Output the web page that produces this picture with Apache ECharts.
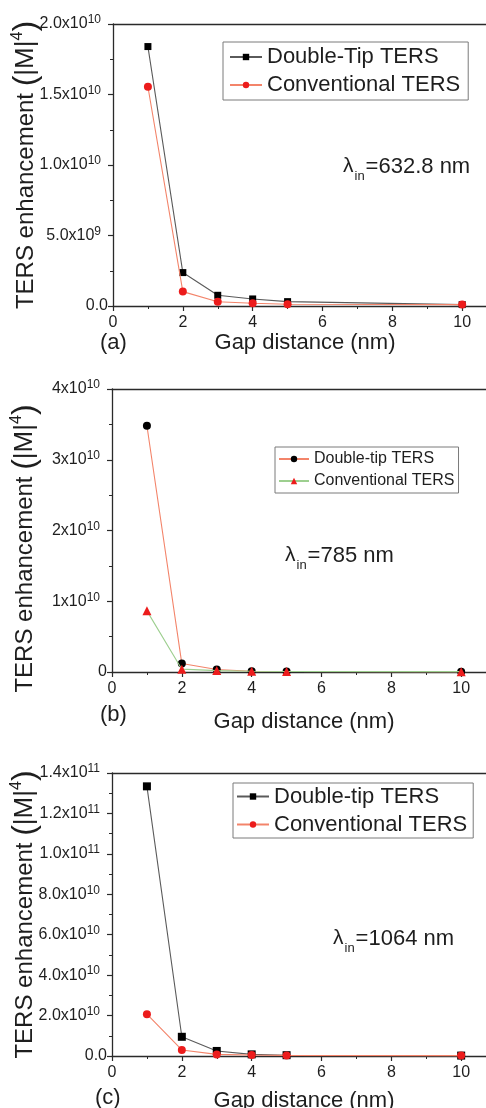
<!DOCTYPE html>
<html>
<head>
<meta charset="utf-8">
<script src="https://cdn.jsdelivr.net/npm/echarts/dist/echarts.min.js"></script>
<style>
  html, body { margin: 0; padding: 0; background: #ffffff; }
  #chart { width: 486px; height: 1108px; }
</style>
</head>
<body>
<div id="chart"></div>
<script>
// Gap distances (nm) shared by all three panels
const gapNm = [1, 2, 3, 4, 5, 10];
const xTickLabels = ['0', '2', '4', '6', '8', '10'];

// (a) excitation at 632.8 nm
const doubleTip633 = [1.84e10, 2.37e9, 7.6e8, 5.0e8, 3.1e8, 1.0e8];
const conventional633 = [1.555e10, 1.02e9, 3.0e8, 1.9e8, 1.2e8, 1.0e8];
const yTicks633 = ['0.0', '5.0x10^9', '1.0x10^10', '1.5x10^10', '2.0x10^10'];

// (b) excitation at 785 nm
const doubleTip785 = [3.48e10, 1.19e9, 3.5e8, 1.0e8, 8.0e7, 5.0e7];
const conventional785 = [8.64e9, 4.0e8, 2.0e8, 1.0e8, 8.0e7, 5.0e7];
const yTicks785 = ['0', '1x10^10', '2x10^10', '3x10^10', '4x10^10'];

// (c) excitation at 1064 nm
const doubleTip1064 = [1.334e11, 9.5e9, 2.5e9, 8.0e8, 4.0e8, 2.0e8];
const conventional1064 = [2.07e10, 3.0e9, 8.0e8, 5.0e8, 3.0e8, 2.0e8];
const yTicks1064 = ['0.0', '2.0x10^10', '4.0x10^10', '6.0x10^10', '8.0x10^10', '1.0x10^11', '1.2x10^11', '1.4x10^11'];

const FONT = '"Liberation Sans", Arial, Helvetica, sans-serif';
const INK = '#1e1e1e';
const AXIS = '#2a2a2a';

// mantissa "x10" followed by a raised exponent and a small trailing gap
function supLabel(s) {
  const parts = s.split('^');
  return parts.length > 1
    ? '{m|' + parts[0] + '}{e|' + parts[1] + '}{g| }'
    : '{m|' + parts[0] + '}';
}

const panels = [
  {
    tag: '(a)', tagPos: { left: 100, top: 332 },
    grid: { left: 113, top: 24, height: 282 },
    yMax: 2e10, yStep: 5e9, yTicks: yTicks633, nameGapX: 26, yNamePad: [0, 0, 0, 0],
    lambda: '632.8 nm', lambdaPos: { left: 343, top: 156 },
    legend: { left: 223, top: 42, fontSize: 22, lineHeight: 24, gap: 4, padding: [3, 8, 3, 6], itemWidth: 32 },
    series: [
      { name: 'a:Double-Tip TERS', data: doubleTip633, symbol: 'rect', size: 7, mark: '#000000', line: '#5a5a5a' },
      { name: 'a:Conventional TERS', data: conventional633, symbol: 'circle', size: 8, mark: '#ec1c1c', line: '#f3846a' }
    ]
  },
  {
    tag: '(b)', tagPos: { left: 100, top: 704 },
    grid: { left: 112, top: 389, height: 283 },
    yMax: 4e10, yStep: 1e10, yTicks: yTicks785, nameGapX: 39, yNamePad: [0, 36, 0, 0],
    lambda: '785 nm', lambdaPos: { left: 285, top: 545 },
    legend: { left: 275, top: 447, fontSize: 16, lineHeight: 18, gap: 4, padding: [3, 4, 3, 3], itemWidth: 30 },
    series: [
      { name: 'b:Double-tip TERS', data: doubleTip785, symbol: 'circle', size: 8, mark: '#000000', line: '#f3846a' },
      { name: 'b:Conventional TERS', data: conventional785, symbol: 'triangle', size: 9, mark: '#ec1c1c', line: '#9dcf8f' }
    ]
  },
  {
    tag: '(c)', tagPos: { left: 95, top: 1087 },
    grid: { left: 112, top: 773, height: 283 },
    yMax: 1.4e11, yStep: 2e10, yTicks: yTicks1064, nameGapX: 34, yNamePad: [0, 0, 0, 0],
    lambda: '1064 nm', lambdaPos: { left: 333, top: 928 },
    legend: { left: 233, top: 783, fontSize: 22, lineHeight: 23, gap: 5, padding: [2, 6, 2, 3], itemWidth: 32 },
    series: [
      { name: 'c:Double-tip TERS', data: doubleTip1064, symbol: 'rect', size: 8, mark: '#000000', line: '#5a5a5a' },
      { name: 'c:Conventional TERS', data: conventional1064, symbol: 'circle', size: 8, mark: '#ec1c1c', line: '#f3846a' }
    ]
  }
];

const option = {
  animation: false,
  backgroundColor: '#ffffff',
  textStyle: { fontFamily: FONT },
  grid: [], xAxis: [], yAxis: [], series: [], legend: [], title: []
};

panels.forEach(function (p, i) {
  option.grid.push({ left: p.grid.left, top: p.grid.top, height: p.grid.height, width: 419, outerBoundsMode: 'none', containLabel: false });

  // bottom axis with ticks and labels
  option.xAxis.push({
    type: 'value', gridIndex: i, position: 'bottom', min: 0, max: 12, interval: 2,
    name: 'Gap distance (nm)', nameLocation: 'middle', nameGap: p.nameGapX, nameMoveOverlap: false,
    nameTextStyle: { fontSize: 22, color: INK, fontFamily: FONT, padding: [0, 35, 0, 0] },
    axisLine: { show: true, onZero: false, lineStyle: { color: AXIS, width: 1.3 } },
    axisTick: { show: true, inside: false, length: 5, lineStyle: { color: AXIS, width: 1.2 } },
    minorTick: { show: true, splitNumber: 2, length: 3, lineStyle: { color: AXIS, width: 1 } },
    axisLabel: { fontSize: 16, color: INK, fontFamily: FONT, margin: 9,
      formatter: function (v, idx) { return xTickLabels[idx] !== undefined ? xTickLabels[idx] : ''; } },
    splitLine: { show: false }
  });
  // top frame line
  option.xAxis.push({
    type: 'value', gridIndex: i, position: 'top', min: 0, max: 12,
    axisLine: { show: true, onZero: false, lineStyle: { color: AXIS, width: 1.3 } },
    axisTick: { show: false }, axisLabel: { show: false }, splitLine: { show: false }
  });

  option.yAxis.push({
    type: 'value', gridIndex: i, min: 0, max: p.yMax, interval: p.yStep,
    name: '{t|TERS enhancement }{p|(}{q||M|}{s|4}{p|)}', nameLocation: 'middle', nameGap: 71, nameMoveOverlap: false,
    nameTextStyle: {
      color: INK, fontFamily: FONT, padding: p.yNamePad,
      rich: {
        t: { fontSize: 24, lineHeight: 32, color: INK, fontFamily: FONT },
        q: { fontSize: 26, lineHeight: 32, color: INK, fontFamily: FONT },
        p: { fontSize: 32, lineHeight: 32, color: INK, fontFamily: FONT },
        s: { fontSize: 16, lineHeight: 16, verticalAlign: 'top', color: INK, fontFamily: FONT }
      }
    },
    axisLine: { show: true, lineStyle: { color: AXIS, width: 1.3 } },
    axisTick: { show: true, inside: false, length: 5, lineStyle: { color: AXIS, width: 1.2 } },
    minorTick: { show: true, splitNumber: 2, length: 3, lineStyle: { color: AXIS, width: 1 } },
    splitLine: { show: false },
    axisLabel: {
      margin: 5, color: INK, fontFamily: FONT,
      formatter: (function (ticks) { return function (v, idx) { return supLabel(ticks[idx] || ''); }; })(p.yTicks),
      rich: {
        m: { fontSize: 16, lineHeight: 20, color: INK, fontFamily: FONT },
        e: { fontSize: 12, lineHeight: 12, verticalAlign: 'top', color: INK, fontFamily: FONT },
        g: { fontSize: 12, width: 7 }
      }
    }
  });

  p.series.forEach(function (s, k) {
    option.series.push({
      type: 'line', name: s.name, xAxisIndex: 2 * i, yAxisIndex: i,
      data: gapNm.map(function (g, j) { return [g, s.data[j]]; }),
      symbol: s.symbol, symbolSize: s.size, showSymbol: true, clip: false, z: 2 + k,
      itemStyle: { color: s.mark, borderWidth: 0 },
      lineStyle: { color: s.line, width: 1.1 }
    });
  });

  option.legend.push({
    left: p.legend.left, top: p.legend.top, orient: 'vertical',
    data: p.series.map(function (s) { return s.name; }),
    formatter: function (n) { return n.slice(n.indexOf(':') + 1); },
    selectedMode: false, itemWidth: p.legend.itemWidth, itemHeight: 8, itemGap: p.legend.gap,
    padding: p.legend.padding, borderColor: '#7a7a7a', borderWidth: 1, backgroundColor: '#ffffff',
    textStyle: { fontSize: p.legend.fontSize, lineHeight: p.legend.lineHeight, color: INK, fontFamily: FONT }
  });

  option.title.push({
    text: '{l|λ}{s|in}{t|=' + p.lambda + '}',
    left: p.lambdaPos.left, top: p.lambdaPos.top, padding: 0,
    textStyle: {
      fontFamily: FONT, color: INK, fontWeight: 'normal',
      rich: {
        l: { fontSize: 21, lineHeight: 24, verticalAlign: 'top', fontWeight: 'normal', color: INK, fontFamily: FONT },
        t: { fontSize: 22, lineHeight: 24, verticalAlign: 'top', fontWeight: 'normal', color: INK, fontFamily: FONT },
        s: { fontSize: 13, lineHeight: 13, verticalAlign: 'top', padding: [14, 1, 0, 1], fontWeight: 'normal', color: INK, fontFamily: FONT }
      }
    }
  });
  option.title.push({
    text: p.tag, left: p.tagPos.left, top: p.tagPos.top, padding: 0,
    textStyle: { fontSize: 22, fontWeight: 'normal', color: INK, fontFamily: FONT }
  });
});

const chart = echarts.init(document.getElementById('chart'), null, { renderer: 'canvas' });
chart.setOption(option);
</script>
</body>
</html>
